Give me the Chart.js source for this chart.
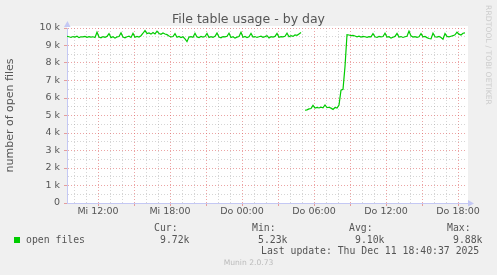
<!DOCTYPE html>
<html lang="en">
<head>
<meta charset="UTF-8">
<title>File table usage - by day</title>
<script src="https://cdn.jsdelivr.net/npm/chart.js"></script>
<style>
    body { margin: 0; background: #f0f0f0; }
    .wrap { position: relative; width: 497px; height: 275px; overflow: hidden; }
    canvas { position: absolute; left: 0; top: 0; }
    .mono {
        position: absolute;
        font-family: "DejaVu Sans Mono", monospace;
        font-size: 9.8px;
        line-height: 12px;
        color: #555;
        white-space: pre;
    }
    .swatch { position: absolute; left: 14px; top: 237px; width: 6px; height: 6px; background: #00cc00; }
    .rrd {
        position: absolute; left: 484px; top: 5px;
        writing-mode: vertical-rl;
        font-family: "DejaVu Sans", sans-serif; font-size: 7.6px;
        color: #cccccc; letter-spacing: 0.1px;
    }
    .munin {
        position: absolute; left: 0; width: 497px; top: 258px; text-align: center;
        font-family: "DejaVu Sans", sans-serif; font-size: 7.6px; color: #bbbbbb;
    }
</style>
</head>
<body>
<div class="wrap">
    <canvas id="chart" width="497" height="275"></canvas>
    <div class="swatch"></div>
    <div class="mono" id="seriesName" style="left:26px; top:234px;"></div>
    <div id="stats"></div>
    <div class="mono" id="lastUpdate" style="left:261px; top:245px;"></div>
    <div class="rrd">RRDTOOL / TOBI OETIKER</div>
    <div class="munin">Munin 2.0.73</div>
</div>
<script>
    // time axis: hours since Wed 00:00, samples every 10 minutes
    const startHour = 9 + 25 / 60;
    const stepHours = 1 / 6;
    const axisMin = startHour;
    const axisMax = 42.75;

    // open files, Wed 09:25 .. Thu 05:25 (null = no data)
    const openFilesA = [
        9520, 9500, 9460, 9510, 9480, 9530, 9450, 9500, 9490, 9520,
        9470, 9510, 9480, 9500, 9460, 9760, 9480, 9440, 9510, 9470,
        9520, 9680, 9450, 9500, 9420, 9490, 9510, 9720, 9480, 9440,
        9500, 9530, 9460, 9690, 9470, 9520, 9480, 9560, 9700, 9850,
        9680, 9720, 9650, 9740, 9660, 9820, 9690, 9640, 9720, 9660,
        9620, 9540, 9490, 9510, 9680, 9470, 9520, 9450, 9500, 9380,
        9220, 9480, 9510, 9470, 9700, 9490, 9450, 9520, 9480, 9510,
        9690, 9460, 9500, 9470, 9520, 9710, 9480, 9440, 9510, 9490,
        9530, 9700, 9460, 9500, 9420, 9480, 9510, 9760, 9470, 9520,
        9450, 9500, 9690, 9480, 9510, 9460, 9500, 9530, 9470, 9510,
        9560, 9430, 9500, 9480, 9520, 9690, 9470, 9510, 9490, 9530,
        9700, 9500, 9560, 9520, 9600, 9580, 9660, 9740, null
    ];
    // open files, Thu 05:35 .. 18:45
    const openFilesB = [
        5300, 5320, 5380, 5400, 5580, 5420, 5460, 5430, 5480, 5440,
        5600, 5450, 5470, 5420, 5350, 5460, 5420, 5600, 6450, 6500,
        7800, 9620, 9600, 9560, 9580, 9540, 9500, 9530, 9480, 9520,
        9500, 9470, 9510, 9490, 9680, 9500, 9460, 9520, 9490, 9510,
        9700, 9480, 9500, 9420, 9470, 9520, 9690, 9480, 9510, 9460,
        9500, 9530, 9820, 9550, 9480, 9510, 9470, 9500, 9680, 9490,
        9520, 9450, 9400, 9380, 9700, 9500, 9480, 9520, 9460, 9360,
        9680, 9520, 9490, 9530, 9560, 9610, 9760, 9650, 9600, 9700,
        9720
    ];
    const openFiles = openFilesA.concat(openFilesB);

    const xTickHours = [12, 18, 24, 30, 36, 42];
    const xTickLabels = ['Mi 12:00', 'Mi 18:00', 'Do 00:00', 'Do 06:00', 'Do 12:00', 'Do 18:00'];
    const yTickValues = [0, 1000, 2000, 3000, 4000, 5000, 6000, 7000, 8000, 9000, 10000];
    const yTickLabels = ['0', '1 k', '2 k', '3 k', '4 k', '5 k', '6 k', '7 k', '8 k', '9 k', '10 k'];

    const statLabels = ['Cur:', 'Min:', 'Avg:', 'Max:'];
    const statValues = ['9.72k', '5.23k', '9.10k', '9.88k'];
    const seriesLabel = 'open files';
    const lastUpdate = 'Last update: Thu Dec 11 18:40:37 2025';

    // legend text below the graph
    document.getElementById('seriesName').textContent = seriesLabel;
    document.getElementById('lastUpdate').textContent = lastUpdate;
    const statLeft = [154, 252, 349, 447];
    const statsBox = document.getElementById('stats');
    statLabels.forEach((lab, i) => {
        const a = document.createElement('div');
        a.className = 'mono';
        a.style.left = statLeft[i] + 'px';
        a.style.top = '222px';
        a.textContent = lab;
        statsBox.appendChild(a);
        const b = document.createElement('div');
        b.className = 'mono';
        b.style.left = (statLeft[i] + 6) + 'px';
        b.style.top = '234px';
        b.textContent = statValues[i];
        statsBox.appendChild(b);
    });

    const majorGrid = 'rgba(220, 90, 90, 0.55)';
    const minorGrid = 'rgba(150, 150, 150, 0.4)';
    const axisBlue = '#c4c8f4';
    const textGrey = '#555555';

    // white plot background + axis arrows
    const rrdLook = {
        id: 'rrdLook',
        beforeDraw(chart) {
            const { ctx, chartArea: a } = chart;
            ctx.save();
            ctx.fillStyle = '#ffffff';
            ctx.fillRect(a.left, a.top - 2, a.right - a.left + 1, a.bottom - a.top + 2);
            ctx.restore();
        },
        afterDraw(chart) {
            const { ctx, chartArea: a } = chart;
            ctx.save();
            ctx.fillStyle = axisBlue;
            ctx.beginPath();
            ctx.moveTo(a.left - 3, a.top - 1);
            ctx.lineTo(a.left + 3.5, a.top - 1);
            ctx.lineTo(a.left + 0.5, a.top - 7);
            ctx.closePath();
            ctx.fill();
            ctx.beginPath();
            ctx.moveTo(a.right + 1, a.bottom - 3);
            ctx.lineTo(a.right + 1, a.bottom + 3.5);
            ctx.lineTo(a.right + 7, a.bottom + 0.5);
            ctx.closePath();
            ctx.fill();
            ctx.restore();
        }
    };

    const ctx = document.getElementById('chart').getContext('2d');
    new Chart(ctx, {
        type: 'line',
        data: {
            datasets: [{
                label: seriesLabel,
                data: openFiles.map((v, i) => ({ x: startHour + i * stepHours, y: v })),
                borderColor: '#00cc00',
                borderWidth: 1.2,
                pointRadius: 0,
                fill: false,
                tension: 0,
                spanGaps: false
            }]
        },
        options: {
            responsive: false,
            animation: false,
            events: [],
            // equal side padding keeps the title centred on the whole image
            layout: { padding: { left: 30, right: 30, top: 0, bottom: 52 } },
            plugins: {
                legend: { display: false },
                tooltip: { enabled: false },
                title: {
                    display: true,
                    text: 'File table usage - by day',
                    color: textGrey,
                    font: { family: 'DejaVu Sans', size: 12.5, weight: 'normal' },
                    padding: { top: 12, bottom: 1 }
                }
            },
            scales: {
                x: {
                    type: 'linear',
                    min: axisMin,
                    max: axisMax,
                    afterBuildTicks(scale) {
                        const t = [];
                        for (let h = 10; h <= 42; h++) t.push({ value: h });
                        scale.ticks = t;
                    },
                    afterFit(scale) { scale.height = 20; },
                    ticks: {
                        autoSkip: false,
                        maxRotation: 0,
                        padding: 0,
                        color: textGrey,
                        font: { family: 'DejaVu Sans', size: 9.5 },
                        callback: v => {
                            const k = xTickHours.indexOf(v);
                            return k >= 0 ? xTickLabels[k] : '';
                        }
                    },
                    grid: {
                        color: c => (c.tick && c.tick.value % 3 === 0) ? majorGrid : minorGrid,
                        tickColor: c => (c.tick && c.tick.value % 3 === 0) ? majorGrid : 'rgba(0,0,0,0)',
                        tickLength: 3,
                        lineWidth: 1
                    },
                    border: { display: true, color: axisBlue, width: 1, dash: [1, 2] }
                },
                y: {
                    min: 0,
                    max: 10000,
                    afterBuildTicks(scale) {
                        const t = [];
                        for (let v = 0; v <= 10000; v += 500) t.push({ value: v });
                        scale.ticks = t;
                    },
                    afterFit(scale) { scale.width = 37; },
                    ticks: {
                        autoSkip: false,
                        padding: 4,
                        color: textGrey,
                        font: { family: 'DejaVu Sans', size: 9.5 },
                        callback: v => {
                            const k = yTickValues.indexOf(v);
                            return k >= 0 ? yTickLabels[k] : '';
                        }
                    },
                    grid: {
                        color: c => (c.tick && c.tick.value % 1000 === 0) ? majorGrid : minorGrid,
                        tickColor: c => (c.tick && c.tick.value % 1000 === 0) ? majorGrid : 'rgba(0,0,0,0)',
                        tickLength: 3,
                        lineWidth: 1
                    },
                    border: { display: true, color: axisBlue, width: 1, dash: [1, 2] },
                    title: {
                        display: true,
                        text: 'number of open files',
                        color: textGrey,
                        font: { family: 'DejaVu Sans', size: 11 },
                        // pulled back into the left padding
                        padding: { top: -26, bottom: 0 }
                    }
                }
            }
        },
        plugins: [rrdLook]
    });
</script>
</body>
</html>
